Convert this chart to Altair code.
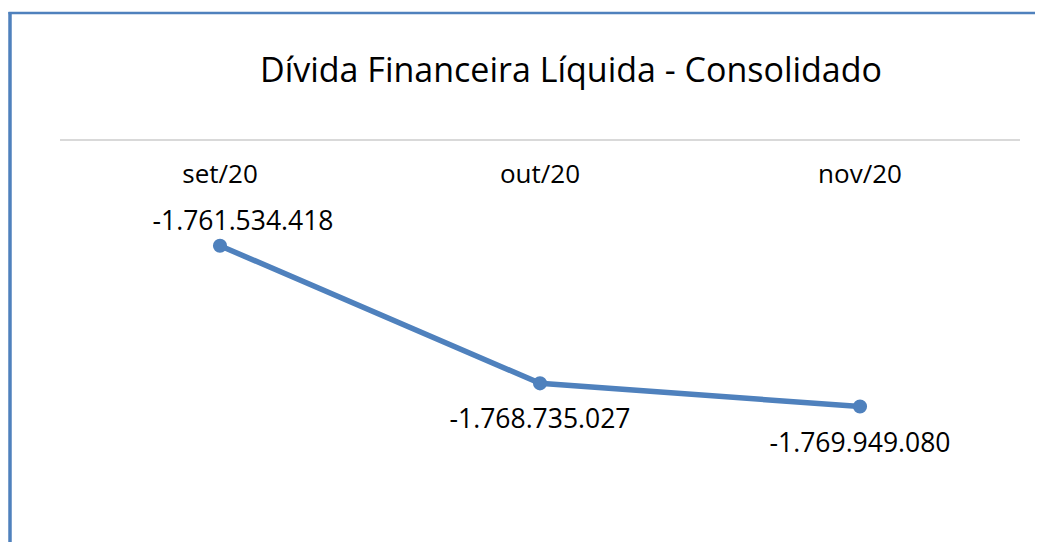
import altair as alt
import pandas as pd

months = ["set/20", "out/20", "nov/20"]
values = [-1761534418, -1768735027, -1769949080]
title_text = "Dívida Financeira Líquida - Consolidado"

labels = [("-" if v < 0 else "") + f"{abs(v):,}".replace(",", ".") for v in values]
df = pd.DataFrame({"month": months, "value": values, "label": labels,
                   "pos": ["above", "below", "below"]})

BLUE = "#4F81BD"
FONT = "Open Sans"
W, H = 960, 363

x = alt.X("month:N", sort=months, scale=alt.Scale(type="point", padding=0.5), axis=None)
y = alt.Y("value:Q", scale=alt.Scale(domain=[-1775e6, -1756e6], zero=False, nice=False), axis=None)

one = alt.Data(values=[{"a": 1}])

left_border = alt.Chart(one).mark_rule(color=BLUE, strokeWidth=3.5).encode(
    x=alt.value(-50), y=alt.value(-128), y2=alt.value(H + 50))
top_border = alt.Chart(one).mark_rule(color=BLUE, strokeWidth=2.5).encode(
    x=alt.value(-51.5), x2=alt.value(W + 30), y=alt.value(-127))
axis_line = alt.Chart(one).mark_rule(color="#D9D9D9", strokeWidth=2).encode(
    x=alt.value(0), x2=alt.value(W), y=alt.value(0))
title = alt.Chart(one).mark_text(font=FONT, fontSize=34, color="#000000", baseline="middle").encode(
    x=alt.value(511), y=alt.value(-68), text=alt.value(title_text))

base = alt.Chart(df)
line = base.mark_line(color=BLUE, strokeWidth=5.5).encode(x=x, y=y)
points = base.mark_circle(color=BLUE, size=200, opacity=1).encode(x=x, y=y)
cats = base.mark_text(font=FONT, fontSize=26, color="#000000", baseline="middle").encode(
    x=x, y=alt.value(35), text="month:N")
lab_above = base.transform_filter(alt.datum.pos == "above").mark_text(
    font=FONT, fontSize=26.5, color="#000000", baseline="middle", dx=23, dy=-24).encode(
    x=x, y=y, text="label:N")
lab_below = base.transform_filter(alt.datum.pos == "below").mark_text(
    font=FONT, fontSize=26.5, color="#000000", baseline="middle", dy=37).encode(
    x=x, y=y, text="label:N")

chart = alt.layer(left_border, top_border, axis_line, title, line, points, cats,
                  lab_above, lab_below).properties(
    width=W, height=H,
    background="white",
    autosize=alt.AutoSizeParams(type="none"),
    padding={"left": 52, "top": 132, "right": 15, "bottom": 39},
).configure_view(stroke=None)

chart.save("out.html", embed_options={"renderer": "svg", "actions": False})
